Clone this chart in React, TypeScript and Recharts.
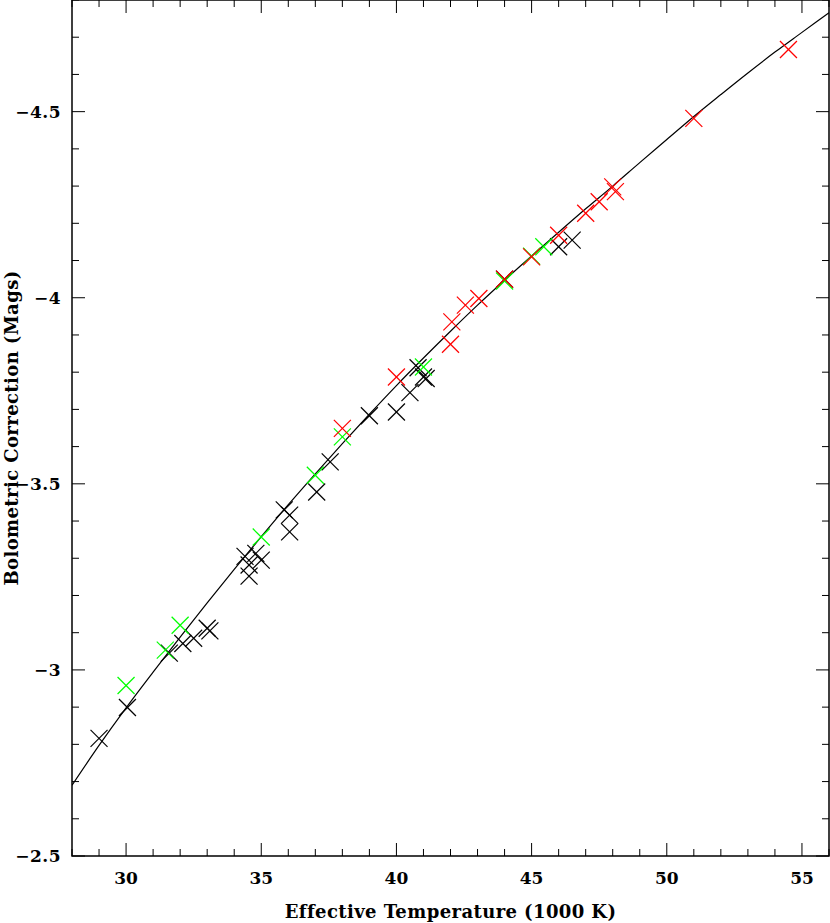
import React from 'react';
import { ComposedChart, Scatter, Line, XAxis, YAxis, ReferenceArea } from 'recharts';

// fitted relation at whole temperatures (1000 K)
const fitTemps = [28, 29, 30, 31, 32, 33, 34, 35, 36, 37, 38, 39, 40, 41, 42, 43, 44, 45, 46, 47, 48, 49, 50, 51, 52, 53, 54, 55, 56];
const fitBC = [-2.69, -2.797, -2.898, -2.994, -3.088, -3.18, -3.27, -3.358, -3.444, -3.527, -3.608, -3.687, -3.764, -3.838, -3.91, -3.98, -4.047, -4.112, -4.176, -4.239, -4.3, -4.363, -4.425, -4.487, -4.546, -4.604, -4.66, -4.713, -4.766];

const blackTemps = [29.0, 30.05, 31.6, 32.1, 32.5, 33.0, 33.1, 34.4, 34.55, 34.55, 34.8, 35.0, 35.85, 36.05, 36.05, 37.05, 37.55, 39.0, 40.0, 40.5, 40.8, 41.0, 41.1, 44.0, 46.0, 46.5];
const blackBC = [-2.816, -2.899, -3.045, -3.071, -3.085, -3.112, -3.105, -3.305, -3.282, -3.252, -3.313, -3.295, -3.43, -3.416, -3.371, -3.478, -3.559, -3.683, -3.693, -3.745, -3.812, -3.787, -3.783, -4.05, -4.137, -4.155];

const greenTemps = [30.0, 31.45, 32.0, 35.0, 37.0, 38.0, 41.0, 44.0, 45.0, 45.45];
const greenBC = [-2.958, -3.053, -3.12, -3.357, -3.523, -3.626, -3.814, -4.045, -4.112, -4.137];

const redTemps = [38.0, 40.0, 42.0, 42.05, 42.55, 43.05, 44.0, 45.0, 46.0, 47.0, 47.5, 48.0, 48.1, 51.0, 54.5];
const redBC = [-3.649, -3.787, -3.875, -3.935, -3.98, -3.998, -4.05, -4.11, -4.168, -4.227, -4.258, -4.298, -4.285, -4.482, -4.667];

const xTicks = [28, 29, 30, 31, 32, 33, 34, 35, 36, 37, 38, 39, 40, 41, 42, 43, 44, 45, 46, 47, 48, 49, 50, 51, 52, 53, 54, 55, 56];
const yTicks = [-4.8, -4.7, -4.6, -4.5, -4.4, -4.3, -4.2, -4.1, -4.0, -3.9, -3.8, -3.7, -3.6, -3.5, -3.4, -3.3, -3.2, -3.1, -3.0, -2.9, -2.8, -2.7, -2.6, -2.5];

const toPoints = (ts: number[], bs: number[]) => ts.map((t, i) => ({ t, bc: bs[i] }));

const fitData = toPoints(fitTemps, fitBC);
const blackData = toPoints(blackTemps, blackBC);
const greenData = toPoints(greenTemps, greenBC);
const redData = toPoints(redTemps, redBC);

const FONT = '"DejaVu Serif", serif';
const PLOT_TOP = 0;
const PLOT_BOTTOM = 856;
const PLOT_LEFT = 72;
const PLOT_RIGHT = 829;
const MAJOR = 13;
const MINOR = 7;

const fmt = (v: number) => (v < 0 ? '\u2212' + String(Math.abs(v)) : String(v));

const XTick = (props: any) => {
  const { x, y, payload } = props;
  const v = payload.value;
  const major = v % 5 === 0;
  const len = major ? MAJOR : MINOR;
  return (
    <g>
      <line x1={x} y1={y} x2={x} y2={y - len} stroke="#000" />
      <line x1={x} y1={PLOT_TOP} x2={x} y2={PLOT_TOP + len} stroke="#000" />
      {major && v > 28 && v < 56 && (
        <text x={x} y={y + 28} textAnchor="middle" fontFamily={FONT} fontSize={17} fontWeight={600} fill="#000">
          {fmt(v)}
        </text>
      )}
    </g>
  );
};

const YTick = (props: any) => {
  const { x, y, payload } = props;
  const v = payload.value;
  const major = Math.abs(v * 2 - Math.round(v * 2)) < 1e-6;
  const len = major ? MAJOR : MINOR;
  return (
    <g>
      <line x1={x} y1={y} x2={x + len} y2={y} stroke="#000" />
      <line x1={PLOT_RIGHT} y1={y} x2={PLOT_RIGHT - len} y2={y} stroke="#000" />
      {major && (
        <text x={x - 11} y={y + 6} textAnchor="end" fontFamily={FONT} fontSize={17} fontWeight={600} letterSpacing={0.5} fill="#000">
          {fmt(v)}
        </text>
      )}
    </g>
  );
};

const cross = (color: string) => (props: any) => {
  const { cx, cy } = props;
  const s = 8.5;
  return (
    <g>
      <line x1={cx - s} y1={cy - s} x2={cx + s} y2={cy + s} stroke={color} strokeWidth={1.2} />
      <line x1={cx - s} y1={cy + s} x2={cx + s} y2={cy - s} stroke={color} strokeWidth={1.2} />
    </g>
  );
};

export default function App() {
  return (
    <div style={{ position: 'absolute', left: 0, top: 0, background: '#fff' }}>
      <ComposedChart width={830} height={923} margin={{ top: 0, right: 1, bottom: 0, left: 0 }}>
        <XAxis
          dataKey="t"
          type="number"
          domain={[28, 56]}
          ticks={xTicks}
          interval={0}
          allowDataOverflow
          axisLine={false}
          tickLine={false}
          tickSize={0}
          tickMargin={0}
          height={67}
          tick={<XTick />}
        />
        <YAxis
          dataKey="bc"
          type="number"
          domain={[-4.8, -2.5]}
          reversed
          ticks={yTicks}
          interval={0}
          allowDataOverflow
          axisLine={false}
          tickLine={false}
          tickSize={0}
          tickMargin={0}
          width={72}
          tick={<YTick />}
        />
        <ReferenceArea x1={28} x2={56} y1={-4.8} y2={-2.5} fill="none" stroke="#000" strokeWidth={1.5} fillOpacity={0} ifOverflow="visible" />
        <Line data={fitData} dataKey="bc" type="monotone" stroke="#000" strokeWidth={1.2} dot={false} activeDot={false} isAnimationActive={false} />
        <Scatter data={blackData} dataKey="bc" shape={cross('#000000')} isAnimationActive={false} />
        <Scatter data={greenData} dataKey="bc" shape={cross('#00ff00')} isAnimationActive={false} />
        <Scatter data={redData} dataKey="bc" shape={cross('#ff0000')} isAnimationActive={false} />
      </ComposedChart>
      <svg width={830} height={923} style={{ position: 'absolute', left: 0, top: 0, pointerEvents: 'none' }}>
        <text x={(PLOT_LEFT + PLOT_RIGHT) / 2} y={918} textAnchor="middle" fontFamily={FONT} fontSize={18} fontWeight={600} letterSpacing={0.4} fill="#000">
          Effective Temperature (1000 K)
        </text>
        <text
          x={18}
          y={(PLOT_TOP + PLOT_BOTTOM) / 2}
          textAnchor="middle"
          fontFamily={FONT}
          fontSize={18}
          fontWeight={600}
          letterSpacing={0.4}
          fill="#000"
          transform={`rotate(-90, 18, ${(PLOT_TOP + PLOT_BOTTOM) / 2})`}
        >
          Bolometric Correction (Mags)
        </text>
      </svg>
    </div>
  );
}
